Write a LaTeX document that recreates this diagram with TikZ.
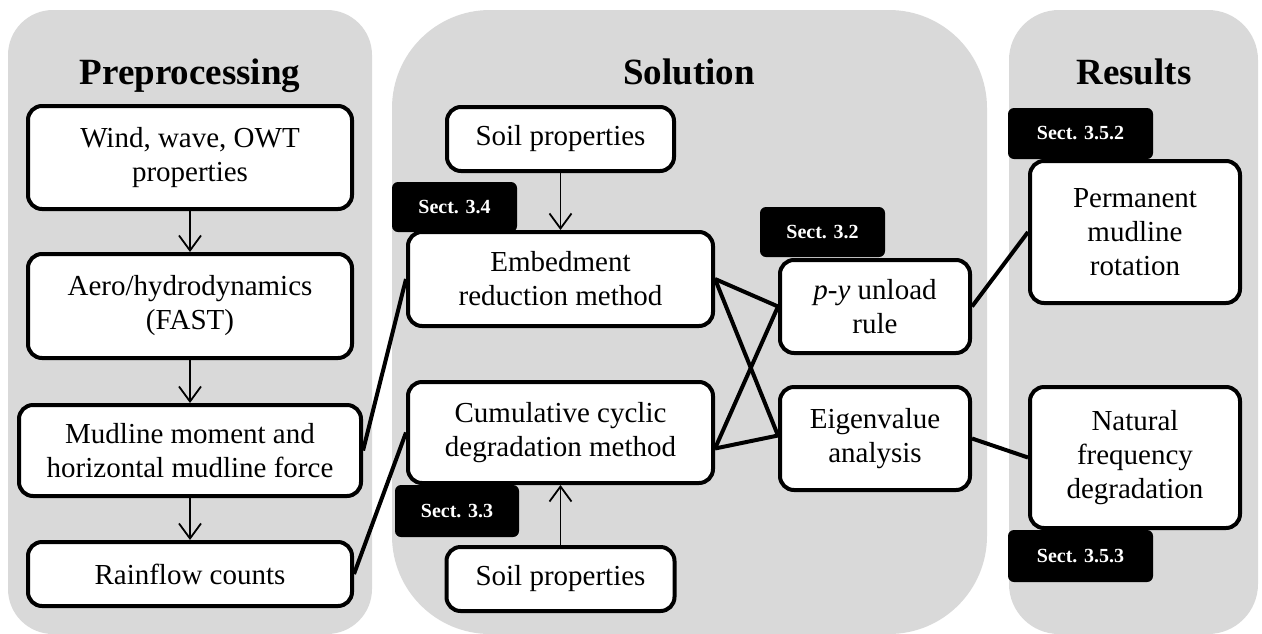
\documentclass[tikz,border=0pt]{standalone}
\usepackage{fontspec}
\setmainfont{Liberation Serif}
\usetikzlibrary{arrows.meta}
\definecolor{panelgray}{HTML}{D9D9D9}
\tikzset{
  box/.style={draw, line width=4pt, rounded corners=14pt, fill=white, align=center,
    font=\fontsize{29}{34}\selectfont, inner sep=0pt},
  sect/.style={fill=black, rounded corners=6pt, text=white, inner sep=0pt,
    font=\bfseries\fontsize{20}{24}\selectfont},
  paneltitle/.style={font=\bfseries\fontsize{37}{44}\selectfont, anchor=base},
  link/.style={line width=4pt},
  arr/.style={line width=1.8pt, -{Straight Barb[length=15pt,width=22pt,line width=1.8pt]}},
  panel/.style={fill=panelgray}
}
\begin{document}
\begin{tikzpicture}[x=1pt,y=-1pt]
\useasboundingbox (0,0) rectangle (1262,633);
\begin{scope}
\clip (0,0) rectangle (1262,633);
\fill[panel, rounded corners=45pt] (8,10) rectangle (372,634);
\fill[panel, rounded corners=98pt] (392,10) rectangle (987,634);
\fill[panel, rounded corners=50pt] (1009,10) rectangle (1258,634);
\end{scope}

% titles
\node[paneltitle] (tpre) at (190,84) {Preprocessing};
\node[paneltitle] (tsol) at (689,84) {Solution};
\node[paneltitle] (tres) at (1134,84) {Results};

% section labels
\node[sect, minimum width=125pt, minimum height=50pt] (s34) at (454.5,207) {Sect. 3.4};
\node[sect, minimum width=124pt, minimum height=52pt] (s33) at (457,511) {Sect. 3.3};
\node[sect, minimum width=125pt, minimum height=50pt] (s32) at (822.5,232) {Sect. 3.2};
\node[sect, minimum width=145pt, minimum height=51pt] (s352) at (1080.5,133.5) {Sect. 3.5.2};
\node[sect, minimum width=145pt, minimum height=52pt] (s353) at (1080.5,556) {Sect. 3.5.3};

% preprocessing boxes
\node[box, minimum width=324pt, minimum height=103pt] (wind) at (190,157.5) {Wind, wave, OWT\\properties};
\node[box, minimum width=324pt, minimum height=104pt] (aero) at (190,306) {Aero/hydrodynamics\\(FAST)};
\node[box, minimum width=342pt, minimum height=91pt] (mud) at (190,450.5) {Mudline moment and\\horizontal mudline force};
\node[box, minimum width=324pt, minimum height=64pt] (rain) at (190,574) {Rainflow counts};

% solution boxes
\node[box, minimum width=227pt, minimum height=64pt] (soilA) at (560.5,139) {Soil properties};
\node[box, minimum width=305pt, minimum height=94pt] (emb) at (560.5,279) {Embedment\\reduction method};
\node[box, minimum width=305pt, minimum height=101pt] (cum) at (560.5,432.5) {Cumulative cyclic\\degradation method};
\node[box, minimum width=228pt, minimum height=64pt] (soilB) at (560.5,579) {Soil properties};
\node[box, minimum width=190pt, minimum height=93pt] (py) at (875,306.5) {\textit{p}-\textit{y} unload\\rule};
\node[box, minimum width=190pt, minimum height=103pt] (eig) at (875,438.5) {Eigenvalue\\analysis};

% results boxes
\node[box, minimum width=210pt, minimum height=142pt] (perm) at (1135,232) {Permanent\\mudline\\rotation};
\node[box, minimum width=210pt, minimum height=141pt] (nat) at (1135,457.5) {Natural\\frequency\\degradation};

% arrows
\draw[arr] (wind.south) -- (aero.north);
\draw[arr] (aero.south) -- (mud.north);
\draw[arr] (mud.south) -- (rain.north);
\draw[arr] (soilA.south) -- (emb.north);
\draw[arr] (soilB.north) -- (cum.south);

% links
\draw[link] (mud.east) -- (emb.west);
\draw[link] (rain.east) -- (cum.west);
\draw[link] (emb.east) -- (py.west);
\draw[link] (emb.east) -- ([yshift=3pt]eig.west);
\draw[link] ([yshift=-16pt]cum.east) -- (py.west);
\draw[link] ([yshift=-16pt]cum.east) -- ([yshift=3pt]eig.west);
\draw[link] (py.east) -- (perm.west);
\draw[link] (eig.east) -- (nat.west);
\end{tikzpicture}
\end{document}
